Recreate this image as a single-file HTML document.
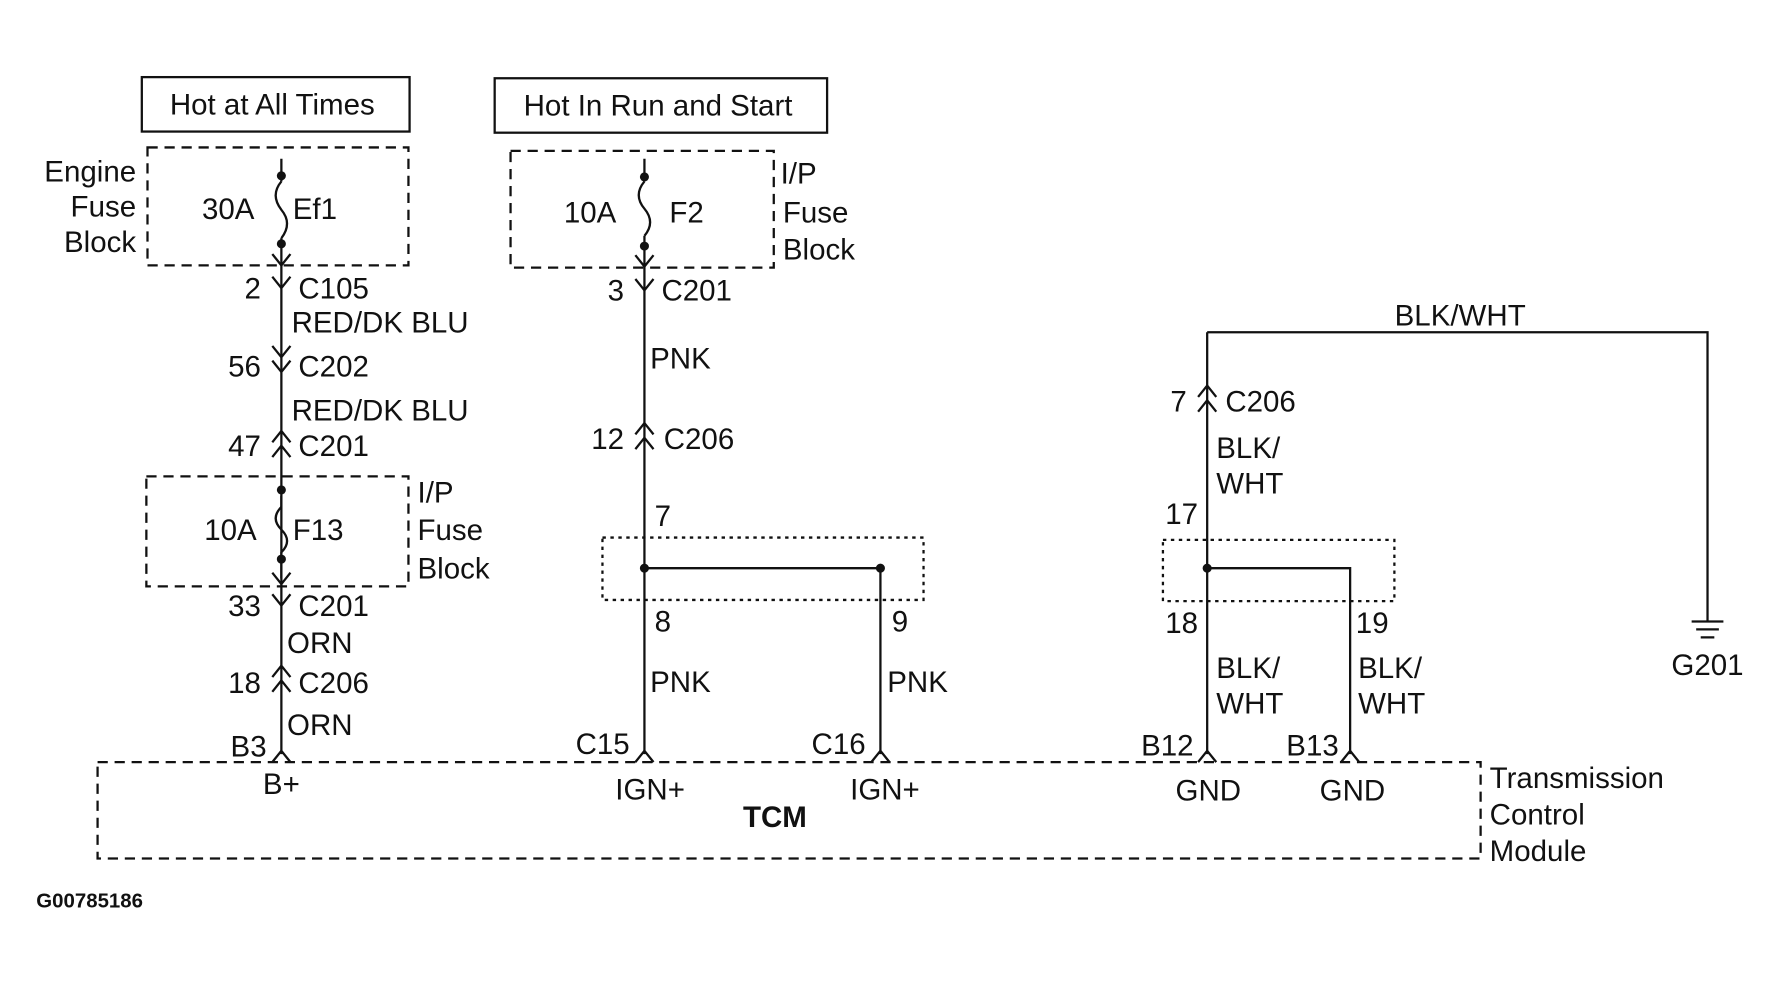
<!DOCTYPE html>
<html><head><meta charset="utf-8"><style>
html,body{margin:0;padding:0;background:#fff;}
svg{display:block}
text{font-family:"Liberation Sans",sans-serif;font-size:26px;fill:#111}
</style></head><body>
<svg width="1779" height="981" viewBox="0 0 1568 865" preserveAspectRatio="none" xmlns="http://www.w3.org/2000/svg">
<g stroke="#111" fill="none" stroke-width="2">
<rect x="125" y="68" width="236" height="48"/>
<rect x="436" y="69" width="293" height="48"/>
<g stroke-dasharray="9,6">
<rect x="130" y="130" width="230" height="104"/>
<rect x="450" y="133" width="232" height="103"/>
<rect x="129" y="420" width="231" height="97"/>
<rect x="86" y="672" width="1219" height="85"/>
</g>
<g stroke-dasharray="3,4">
<rect x="531" y="474" width="283" height="55"/>
<rect x="1025" y="476" width="204" height="54"/>
</g>
<path d="M248 140 V160 M248 210 V665"/>
<path d="M248 160 q-10 12 0 25 q10 12 0 25"/>
<path d="M248 437 V447 M248 487 V510"/>
<path d="M248 447 q-10 10 0 20 q10 10 0 20"/>
<path d="M240 224 L248 234 L256 224"/>
<path d="M240 244 L248 254 L256 244"/>
<path d="M240 305 L248 315 L256 305"/>
<path d="M240 318 L248 328 L256 318"/>
<path d="M240 390 L248 380 L256 390"/>
<path d="M240 403 L248 393 L256 403"/>
<path d="M240 505 L248 515 L256 505"/>
<path d="M240 524 L248 534 L256 524"/>
<path d="M240 597 L248 587 L256 597"/>
<path d="M240 610 L248 600 L256 610"/>
<path d="M240 672 L248 662 L256 672"/>
<path d="M568 140 V160 M568 208 V665"/>
<path d="M568 160 q-10 12 0 24 q10 12 0 24"/>
<path d="M560 225 L568 235 L576 225"/>
<path d="M560 246 L568 256 L576 246"/>
<path d="M560 383 L568 373 L576 383"/>
<path d="M560 396 L568 386 L576 396"/>
<path d="M568 501 H776 V665"/>
<path d="M560 672 L568 662 L576 672"/>
<path d="M768 672 L776 662 L784 672"/>
<path d="M1064 293 V665 M1064 293 H1505 V548"/>
<path d="M1056 350 L1064 340 L1072 350"/>
<path d="M1056 363 L1064 353 L1072 363"/>
<path d="M1064 501 H1190 V665"/>
<path d="M1056 672 L1064 662 L1072 672"/>
<path d="M1182 672 L1190 662 L1198 672"/>
<path d="M1491 548 H1519 M1495 555 H1515 M1499 562 H1511"/>
</g>
<g fill="#111">
<circle cx="248" cy="155" r="4"/><circle cx="248" cy="215" r="4"/>
<circle cx="248" cy="432" r="4"/><circle cx="248" cy="493" r="4"/>
<circle cx="568" cy="156" r="4"/><circle cx="568" cy="217" r="4"/>
<circle cx="568" cy="501" r="4"/><circle cx="776" cy="501" r="4"/>
<circle cx="1064" cy="501" r="4"/>
</g>
<text x="240" y="101" text-anchor="middle">Hot at All Times</text>
<text x="580" y="102" text-anchor="middle">Hot In Run and Start</text>
<g text-anchor="end">
<text x="120" y="160">Engine</text><text x="120" y="191">Fuse</text><text x="120" y="222">Block</text>
<text x="230" y="263">2</text><text x="230" y="332">56</text><text x="230" y="402">47</text>
<text x="230" y="543">33</text><text x="230" y="611">18</text><text x="235" y="667">B3</text>
<text x="550" y="265">3</text><text x="550" y="396">12</text>
<text x="555" y="665">C15</text><text x="763" y="665">C16</text>
<text x="1046" y="363">7</text><text x="1056" y="462">17</text><text x="1056" y="558">18</text>
<text x="1052" y="666">B12</text><text x="1180" y="666">B13</text>
</g>
<text x="178" y="193">30A</text><text x="258" y="193">Ef1</text>
<text x="263" y="263">C105</text><text x="257" y="293">RED/DK BLU</text>
<text x="263" y="332">C202</text><text x="257" y="371">RED/DK BLU</text>
<text x="263" y="402">C201</text>
<text x="180" y="476">10A</text><text x="258" y="476">F13</text>
<text x="368" y="443">I/P</text><text x="368" y="476">Fuse</text><text x="368" y="510">Block</text>
<text x="263" y="543">C201</text><text x="253" y="576">ORN</text>
<text x="263" y="611">C206</text><text x="253" y="648">ORN</text>
<text x="248" y="700" text-anchor="middle">B+</text>
<text x="497" y="196">10A</text><text x="590" y="196">F2</text>
<text x="688" y="162">I/P</text><text x="690" y="196">Fuse</text><text x="690" y="229">Block</text>
<text x="583" y="265">C201</text><text x="573" y="325">PNK</text><text x="585" y="396">C206</text>
<text x="577" y="464">7</text><text x="577" y="557">8</text><text x="786" y="557">9</text>
<text x="573" y="610">PNK</text><text x="782" y="610">PNK</text>
<text x="573" y="705" text-anchor="middle">IGN+</text><text x="780" y="705" text-anchor="middle">IGN+</text>
<text x="683" y="729" text-anchor="middle" style="font-weight:bold">TCM</text>
<text x="1313" y="695">Transmission</text><text x="1313" y="727">Control</text><text x="1313" y="759">Module</text>
<text x="1287" y="287" text-anchor="middle">BLK/WHT</text>
<text x="1080" y="363">C206</text>
<text x="1072" y="404">BLK/</text><text x="1072" y="435">WHT</text>
<text x="1195" y="558">19</text>
<text x="1072" y="598">BLK/</text><text x="1072" y="629">WHT</text>
<text x="1197" y="598">BLK/</text><text x="1197" y="629">WHT</text>
<text x="1065" y="706" text-anchor="middle">GND</text><text x="1192" y="706" text-anchor="middle">GND</text>
<text x="1505" y="595" text-anchor="middle">G201</text>
<text x="32" y="800" style="font-size:18px;font-weight:bold">G00785186</text>
</svg>
</body></html>
